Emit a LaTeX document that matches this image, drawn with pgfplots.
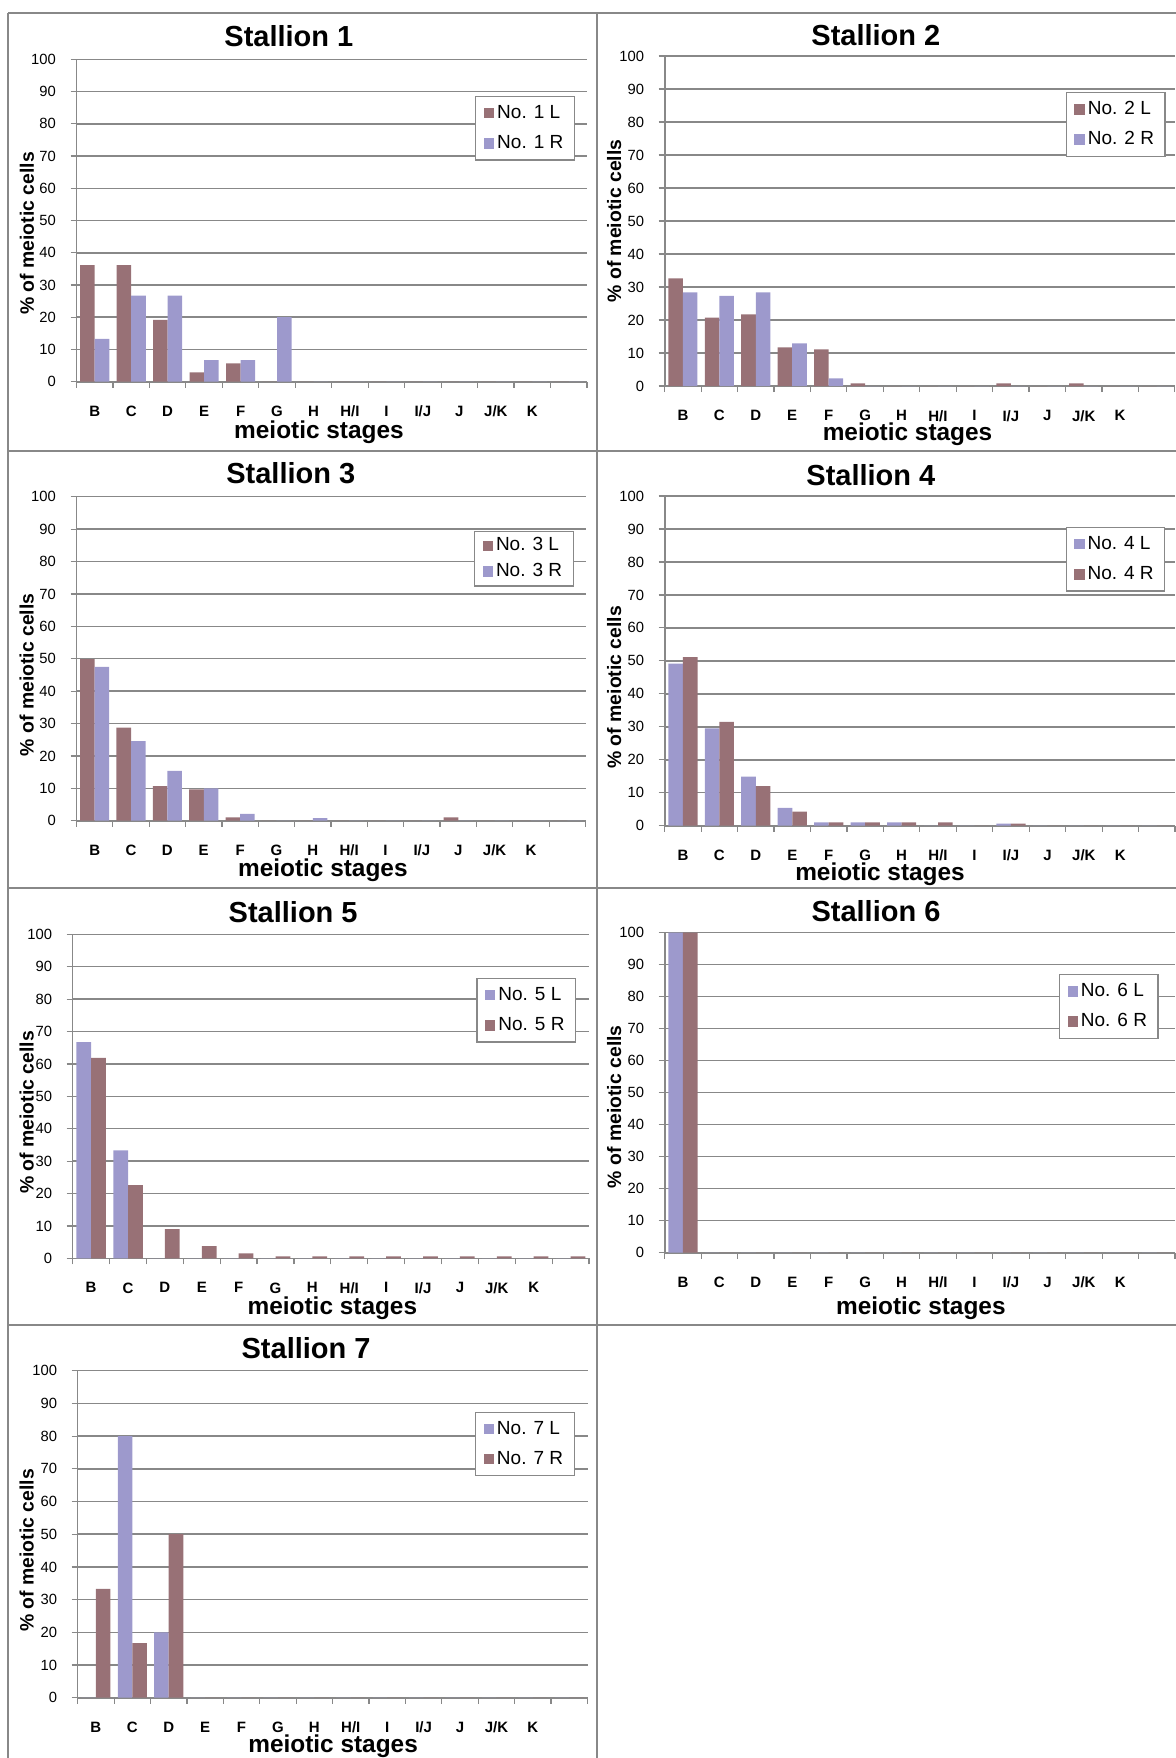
\documentclass[border=0pt]{standalone}
\usepackage{fontspec}
\setmainfont{Liberation Sans}
\usepackage{pgfplots}
\pgfplotsset{compat=1.18}
\definecolor{brn}{RGB}{152,113,118}
\definecolor{lav}{RGB}{157,153,204}
\definecolor{grd}{RGB}{136,136,136}
\pgfplotsset{
 stal/.style={
  scale only axis, anchor=south west,
  xmin=-0.5, xmax=13.5, ymin=0, ymax=100,
  axis x line*=bottom, axis y line*=left,
  axis line style={grd, line width=0.8pt, -},
  ytick={0,10,...,100}, minor ytick={0,10,...,100},
  xtick={0,...,12}, xticklabels={B,C,D,E,F,G,H,H/I,I,I/J,J,J/K,K},
  minor xtick={-0.5,0.5,...,13.5},
  major tick length=0pt, minor tick length=3pt, tick align=outside,
  minor tick style={grd, line width=0.6pt},
  ymajorgrids, major grid style={grd, line width=0.75pt},
  /pgf/number format/assume math mode=true,
  yticklabel style={font=\fontsize{7.4}{8.5}\selectfont, xshift=-6.8pt},
  xticklabel style={font=\fontsize{7.5}{8.5}\selectfont\bfseries, yshift=-8.6pt},
  ybar, bar width=0.4,
  every axis title shift=0pt,
  title style={anchor=center, font=\fontsize{14.5}{17}\selectfont\bfseries},
  xlabel={meiotic stages}, ylabel={\% of meiotic cells},
  xlabel style={anchor=center, font=\fontsize{12.2}{14}\selectfont\bfseries},
  ylabel style={anchor=center, font=\fontsize{9.7}{11}\selectfont\bfseries},
  legend style={anchor=north east, draw=grd, line width=0.6pt, fill=white,
    font=\fontsize{9.5}{11}\selectfont, inner xsep=4pt, inner ysep=2.8pt,
    row sep=4pt, nodes={inner sep=1.5pt}},
  legend cell align=left,
  legend image code/.code={\fill[#1,/tikz/.cd] (0pt,-2.6pt) rectangle (5.2pt,2.6pt);},
 },
 leftbar/.style={draw=none, bar shift=-0.2},
 rightbar/.style={draw=none, bar shift=0.2},
}
\begin{document}
\begin{tikzpicture}
\path[use as bounding box] (0pt,0pt) rectangle (588pt,-879pt);
% panel borders
\begin{scope}[grd, line width=0.8pt]
\draw (4pt,-6.5pt) -- (588pt,-6.5pt);
\draw (4pt,-225.5pt) -- (588pt,-225.5pt);
\draw (4pt,-444pt) -- (588pt,-444pt);
\draw (4pt,-662.5pt) -- (588pt,-662.5pt);
\draw (4pt,-6.5pt) -- (4pt,-879pt);
\draw (298.5pt,-6.5pt) -- (298.5pt,-879pt);
\end{scope}

% Stallion 1
\begin{axis}[stal, at={(38.25pt,-190.85pt)}, width=255.25pt, height=161.2pt,
  title={Stallion 1}, title style={at={(axis description cs:0.416,1.072)}},
  xlabel style={at={(axis description cs:0.475,-0.156)}},
  ylabel style={at={(axis description cs:-0.097,0.46)}},
  legend style={at={(axis description cs:0.9765,0.886)}}]
\addplot[leftbar, fill=brn] coordinates {(0,36.2)(1,36.2)(2,19.2)(3,2.9)(4,5.7)(5,0)(6,0)(7,0)(8,0)(9,0)(10,0)(11,0)(12,0)(13,0)};
\addplot[rightbar, fill=lav] coordinates {(0,13.3)(1,26.7)(2,26.7)(3,6.7)(4,6.7)(5,20)(6,0)(7,0)(8,0)(9,0)(10,0)(11,0)(12,0)(13,0)};
\legend{No. 1 L, No. 1 R}
\end{axis}

% Stallion 2
\begin{axis}[stal, at={(332.35pt,-193pt)}, width=255.05pt, height=165pt,
  title={Stallion 2}, title style={at={(axis description cs:0.414,1.064)}},
  xlabel style={at={(axis description cs:0.476,-0.147)}},
  ylabel style={at={(axis description cs:-0.099,0.5)}},
  legend style={at={(axis description cs:0.982,0.891)}}]
\addplot[leftbar, fill=brn] coordinates {(0,32.6)(1,20.7)(2,21.7)(3,11.7)(4,11.1)(5,0.8)(6,0)(7,0)(8,0)(9,0.8)(10,0)(11,0.8)(12,0)(13,0)};
\addplot[rightbar, fill=lav] coordinates {(0,28.4)(1,27.3)(2,28.4)(3,12.9)(4,2.3)(5,0)(6,0)(7,0)(8,0)(9,0)(10,0)(11,0)(12,0)(13,0)};
\legend{No. 2 L, No. 2 R}
\end{axis}

% Stallion 3
\begin{axis}[stal, at={(38.25pt,-410.35pt)}, width=254.5pt, height=162pt,
  title={Stallion 3}, title style={at={(axis description cs:0.421,1.073)}},
  xlabel style={at={(axis description cs:0.484,-0.152)}},
  ylabel style={at={(axis description cs:-0.098,0.45)}},
  legend style={at={(axis description cs:0.977,0.895)}, row sep=1.7pt, inner ysep=1.7pt}]
\addplot[leftbar, fill=brn] coordinates {(0,49.9)(1,28.7)(2,10.7)(3,9.7)(4,1.0)(5,0)(6,0)(7,0)(8,0)(9,0)(10,1.0)(11,0)(12,0)(13,0)};
\addplot[rightbar, fill=lav] coordinates {(0,47.5)(1,24.6)(2,15.4)(3,10.0)(4,2.1)(5,0)(6,0.8)(7,0)(8,0)(9,0)(10,0)(11,0)(12,0)(13,0)};
\legend{No. 3 L, No. 3 R}
\end{axis}

% Stallion 4
\begin{axis}[stal, at={(332.35pt,-412.85pt)}, width=255.15pt, height=164.85pt,
  title={Stallion 4}, title style={at={(axis description cs:0.404,1.064)}},
  xlabel style={at={(axis description cs:0.422,-0.146)}},
  ylabel style={at={(axis description cs:-0.099,0.42)}},
  legend style={at={(axis description cs:0.981,0.906)}}]
\addplot[leftbar, fill=lav] coordinates {(0,49.2)(1,29.5)(2,14.9)(3,5.4)(4,1.0)(5,1.0)(6,1.0)(7,0)(8,0)(9,0.6)(10,0)(11,0)(12,0)(13,0)};
\addplot[rightbar, fill=brn] coordinates {(0,51.1)(1,31.5)(2,12.0)(3,4.3)(4,1.0)(5,1.0)(6,1.0)(7,1.0)(8,0)(9,0.6)(10,0)(11,0)(12,0)(13,0)};
\legend{No. 4 L, No. 4 R}
\end{axis}

% Stallion 5
\begin{axis}[stal, at={(36.35pt,-629.15pt)}, width=258.15pt, height=162pt,
  title={Stallion 5}, title style={at={(axis description cs:0.427,1.069)}},
  xlabel style={at={(axis description cs:0.503,-0.155)}},
  ylabel style={at={(axis description cs:-0.089,0.45)}},
  legend style={at={(axis description cs:0.975,0.865)}}]
\addplot[leftbar, fill=lav] coordinates {(0,66.7)(1,33.3)(2,0)(3,0)(4,0)(5,0)(6,0)(7,0)(8,0)(9,0)(10,0)(11,0)(12,0)(13,0)};
\addplot[rightbar, fill=brn] coordinates {(0,61.9)(1,22.6)(2,9.0)(3,3.8)(4,1.5)(5,0.6)(6,0.6)(7,0.6)(8,0.6)(9,0.6)(10,0.6)(11,0.6)(12,0.6)(13,0.6)};
\legend{No. 5 L, No. 5 R}
\end{axis}

% Stallion 6
\begin{axis}[stal, at={(332.35pt,-626.35pt)}, width=255.15pt, height=160pt,
  title={Stallion 6}, title style={at={(axis description cs:0.414,1.066)}},
  xlabel style={at={(axis description cs:0.502,-0.174)}},
  ylabel style={at={(axis description cs:-0.099,0.456)}},
  legend style={at={(axis description cs:0.968,0.871)}}]
\addplot[leftbar, fill=lav] coordinates {(0,100)(1,0)(2,0)(3,0)(4,0)(5,0)(6,0)(7,0)(8,0)(9,0)(10,0)(11,0)(12,0)(13,0)};
\addplot[rightbar, fill=brn] coordinates {(0,100)(1,0)(2,0)(3,0)(4,0)(5,0)(6,0)(7,0)(8,0)(9,0)(10,0)(11,0)(12,0)(13,0)};
\legend{No. 6 L, No. 6 R}
\end{axis}

% Stallion 7
\begin{axis}[stal, at={(38.85pt,-848.85pt)}, width=254.9pt, height=163.5pt,
  title={Stallion 7}, title style={at={(axis description cs:0.448,1.069)}},
  xlabel style={at={(axis description cs:0.501,-0.149)}},
  ylabel style={at={(axis description cs:-0.100,0.45)}},
  legend style={at={(axis description cs:0.975,0.874)}}]
\addplot[leftbar, fill=lav] coordinates {(0,0)(1,80)(2,20)(3,0)(4,0)(5,0)(6,0)(7,0)(8,0)(9,0)(10,0)(11,0)(12,0)(13,0)};
\addplot[rightbar, fill=brn] coordinates {(0,33.3)(1,16.7)(2,50)(3,0)(4,0)(5,0)(6,0)(7,0)(8,0)(9,0)(10,0)(11,0)(12,0)(13,0)};
\legend{No. 7 L, No. 7 R}
\end{axis}
\end{tikzpicture}
\end{document}
